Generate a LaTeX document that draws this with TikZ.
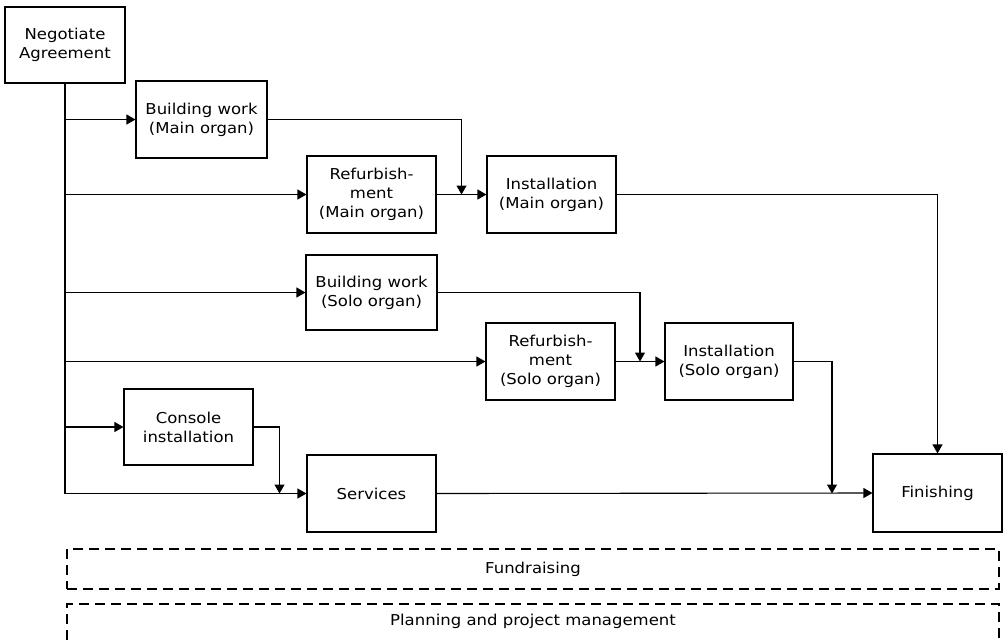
\documentclass[tikz,border=0pt]{standalone}
\usepackage{fontspec}
\setmainfont[FakeStretch=1.1]{DejaVu Sans}
\usetikzlibrary{arrows.meta,calc}
\begin{document}
\begin{tikzpicture}[x=1pt,y=-1pt,
  txt/.style={font=\fontsize{15}{19}\selectfont},
  box/.style={draw,line width=1.1pt,minimum width=130pt,minimum height=77pt,align=center,inner sep=0pt,txt},
  dbox/.style={draw,line width=1.1pt,dash pattern=on 10pt off 6pt,minimum width=932pt,minimum height=40pt,inner sep=0pt,txt},
  conn/.style={line width=1.1pt},
  arr/.style={conn,-{Triangle[length=9pt,width=10pt]}}]
\useasboundingbox (0,0) rectangle (1008,643);
\node[box,minimum width=120pt,minimum height=76pt] (neg) at (65,45) {Negotiate\\Agreement};
\node[box,minimum width=131pt] (bwm) at (201.5,119.5) {Building work\\(Main organ)};
\node[box,minimum width=129pt] (rfm) at (371.5,194.5) {Refurbish-\\ment\\(Main organ)};
\node[box,minimum width=129pt] (inm) at (551.5,194.5) {Installation\\(Main organ)};
\node[box,minimum width=131pt,minimum height=75pt] (bws) at (371.5,292.5) {Building work\\(Solo organ)};
\node[box,minimum width=129pt] (rfs) at (550.5,361.5) {Refurbish-\\ment\\(Solo organ)};
\node[box,minimum width=128pt] (ins) at (729,361.5) {Installation\\(Solo organ)};
\node[box,minimum width=129pt,minimum height=76pt] (con) at (188.5,427) {Console\\installation};
\node[box,minimum width=129pt] (ser) at (371.5,493.5) {Services};
\node[box,minimum width=129pt,minimum height=78pt] (fin) at (937.5,493) {Finishing};
\node[dbox] (fund) at (533,569) {Fundraising};
\node[dbox,minimum height=46pt] (plan) at (533,627) {};
\node[txt] (plantext) at (533,621) {Planning and project management};
\coordinate (j1) at ($(rfm.east)!0.5!(inm.west)$);
\coordinate (j2) at ($(rfs.east)!0.5!(ins.west)$);
\coordinate (j3) at (279.5,493.5);
\coordinate (j4) at (832,493.5);
% trunk
\draw[conn] (neg.south) -- (neg.south |- ser.west);
\draw[arr] (neg.south |- bwm.west) -- (bwm.west);
\draw[arr] (neg.south |- rfm.west) -- (rfm.west);
\draw[arr] (neg.south |- bws.west) -- (bws.west);
\draw[arr] (neg.south |- rfs.west) -- (rfs.west);
\draw[arr] (neg.south |- con.west) -- (con.west);
\draw[arr] (neg.south |- ser.west) -- (ser.west);
% main organ
\draw[arr] (bwm.east) -| (j1);
\draw[arr] (rfm.east) -- (inm.west);
\draw[arr] (inm.east) -| (fin.north);
% solo organ
\draw[arr] (bws.east) -| (j2);
\draw[arr] (rfs.east) -- (ins.west);
\draw[arr] (ins.east) -| (j4);
% console / services
\draw[arr] (con.east) -| (j3);
\draw[arr] (ser.east) -- (fin.west);
\end{tikzpicture}
\end{document}
